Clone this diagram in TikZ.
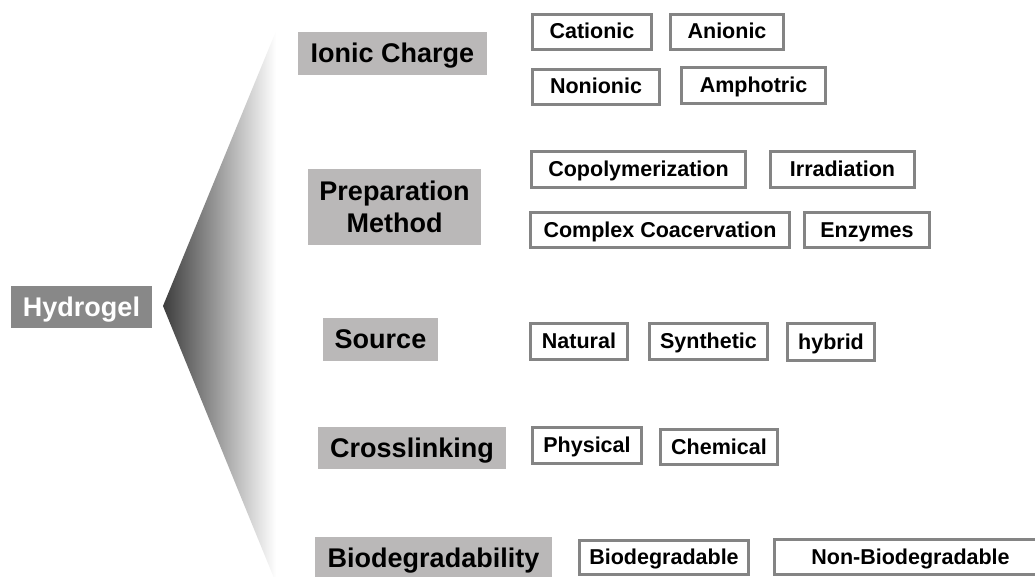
\documentclass[tikz,border=0pt]{standalone}
\usepackage{fontspec}
\setmainfont{Liberation Sans}
\usetikzlibrary{calc}
\definecolor{rootgray}{HTML}{888888}
\definecolor{catgray}{HTML}{BAB8B8}
\definecolor{framegray}{HTML}{848484}
\tikzset{
	rootbox/.style={fill=rootgray, text=white, inner sep=0pt, font=\fontsize{27}{32}\selectfont\bfseries, text height=20pt, text depth=2pt},
	catbox/.style={fill=catgray, inner sep=0pt, font=\fontsize{27}{32}\selectfont\bfseries},
	catline/.style={text height=20pt, text depth=2pt},
	itembox/.style={draw=framegray, line width=3pt, fill=white, inner sep=0pt, font=\fontsize{21.5}{24}\selectfont\bfseries, text height=16pt, text depth=2pt}
}

\begin{document}
\begin{tikzpicture}[x=1pt, y=-1pt]
			%%%%% START %%%%%
			\useasboundingbox (0, 0) rectangle (1035, 577);
			
			\shade[left color=black!76, right color=white] (163, 306) -- (276, 31) -- (276, 583) -- cycle;
			\node[rootbox, minimum width=141, minimum height=42] (hydrogel) at (81.5, 307) {Hydrogel};
			
			\node[catbox, catline, minimum width=189, minimum height=43] (ionic) at (392.5, 53.5) {Ionic Charge};
			\node[catbox, align=center, minimum width=173, minimum height=76] (prep) at (394.5, 207) {Preparation\\Method};
			\node[catbox, catline, minimum width=115, minimum height=43] (source) at (380.5, 339.5) {Source};
			\node[catbox, catline, minimum width=188, minimum height=42] (cross) at (412, 448) {Crosslinking};
			\node[catbox, catline, minimum width=237, minimum height=43] (biodeg) at (433.5, 558.5) {Biodegradability};
			
			\node[itembox, minimum width=119, minimum height=35] (cationic) at (592, 32) {Cationic};
			\node[itembox, minimum width=113, minimum height=35] (anionic) at (727, 32) {Anionic};
			\node[itembox, minimum width=127, minimum height=35] (nonionic) at (596, 87) {Nonionic};
			\node[itembox, minimum width=144, minimum height=36] (amphotric) at (753.5, 85.5) {Amphotric};
			
			\node[itembox, minimum width=214, minimum height=36] (copoly) at (638.5, 169.5) {Copolymerization};
			\node[itembox, minimum width=144, minimum height=36] (irrad) at (842.5, 169.5) {Irradiation};
			\node[itembox, minimum width=259, minimum height=35] (coacerv) at (660, 230) {Complex Coacervation};
			\node[itembox, minimum width=125, minimum height=35] (enzymes) at (867, 230) {Enzymes};
			
			\node[itembox, minimum width=97, minimum height=36] (natural) at (579, 341.5) {Natural};
			\node[itembox, minimum width=118, minimum height=36] (synthetic) at (708.5, 341.5) {Synthetic};
			\node[itembox, minimum width=87, minimum height=37] (hybrid) at (831, 342) {hybrid};
			
			\node[itembox, minimum width=109, minimum height=36] (physical) at (587, 445.5) {Physical};
			\node[itembox, minimum width=117, minimum height=35] (chemical) at (719, 447) {Chemical};
			
			\node[itembox, minimum width=169, minimum height=34] (degradable) at (664, 557.5) {Biodegradable};
			\node[itembox, minimum width=272, minimum height=35] (nondegradable) at (910.5, 557) {Non-Biodegradable};
			
			%%%%% END %%%%%
\end{tikzpicture}
\end{document}
